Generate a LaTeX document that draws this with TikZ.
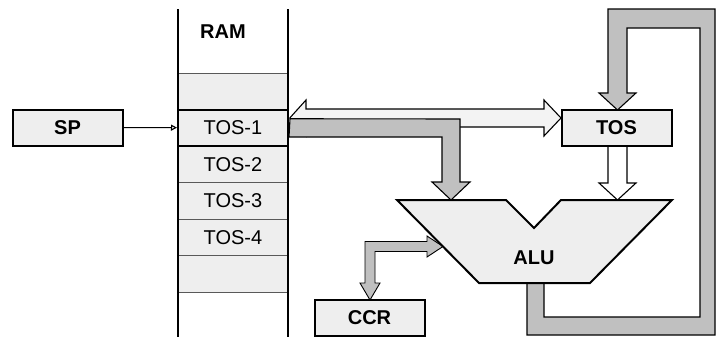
\documentclass[tikz,border=0pt]{standalone}
\usepackage{fontspec}
\setmainfont{Liberation Sans}
\usetikzlibrary{arrows.meta}
\definecolor{cellgray}{RGB}{238,238,238}
\definecolor{busgray}{RGB}{192,192,192}
\definecolor{lightbus}{RGB}{243,243,243}

\begin{document}
\begin{tikzpicture}[x=1pt, y=-1pt,
  every node/.style={font=\fontsize{20}{24}\selectfont},
  reg/.style={draw, line width=2pt, fill=cellgray, minimum width=110pt,
    minimum height=36pt, inner sep=0pt, font=\fontsize{20}{24}\selectfont\bfseries},
  cell/.style={draw=black!65, line width=0.8pt, fill=cellgray,
    minimum width=110pt, minimum height=36.5pt, inner sep=0pt},
  bus/.style={draw, line width=1.1pt, fill=busgray},
  lightbus/.style={draw, line width=1.1pt, fill=lightbus}]

  \useasboundingbox (0,0) rectangle (716,340);

  % RAM stack
  \node[cell] (r0) at (233,91.25) {};
  \node[cell] (r2) at (233,164.25) {TOS-2};
  \node[cell] (r3) at (233,200.75) {TOS-3};
  \node[cell] (r4) at (233,237.25) {TOS-4};
  \node[cell] (r5) at (233,273.75) {};
  \node[cell, draw=black, line width=2pt] (tos1) at (233,127.75) {TOS-1};
  \draw[line width=1.3pt] (178,9) -- (178,337) (288,9) -- (288,337);
  \node[font=\fontsize{20}{24}\selectfont\bfseries] (ram) at (223,32) {RAM};

  % registers
  \node[reg] (sp) at (67.5,127.5) {SP};

  \draw[line width=1.1pt, -{Triangle[open, length=6pt, width=6pt]}] (sp) -- (tos1);

  % buses
  \draw[lightbus] (tos1.east) ++(1,-10) -- (306,100) -- (306,109) -- (544,109)
    -- (544,100) -- (561,118) -- (544,136) -- (544,127) -- (306,127)
    -- (306,136) -- cycle;
  \draw[bus] (tos1.east) ++(1,-9) -- (460,119) -- (460,182) -- (470,182)
    -- (451,200) -- (432,182) -- (442,182) -- (442,137) -- (289,137) -- cycle;
  \draw[bus] (527,283) -- (527,335) -- (715,335) -- (715,9) -- (608,9)
    -- (608,93) -- (599,93) -- (617.5,110) -- (636,93) -- (627,93) -- (627,28)
    -- (700,28) -- (700,317) -- (544,317) -- (544,283) -- cycle;
  \draw[bus, line width=0.9pt] (443,246.5) -- (427,236) -- (427,241.5)
    -- (365,241.5) -- (365,283) -- (360,283) -- (370,300) -- (380,283)
    -- (375,283) -- (375,251.5) -- (427,251.5) -- (427,257) -- cycle;
  \draw[line width=1.1pt, fill=white] (608,146) -- (608,183) -- (599,183)
    -- (617.5,200) -- (636,183) -- (627,183) -- (627,146) -- cycle;

  \node[reg] (tos) at (616.5,128) {TOS};
  \node[reg] (ccr) at (369.5,318) {CCR};

  % ALU
  \draw[line width=2pt, fill=cellgray, line join=miter]
    (397,200) -- (506,200) -- (534,228) -- (561,200) -- (672,200)
    -- (590,283) -- (479,283) -- cycle;
  \node[font=\fontsize{20}{24}\selectfont\bfseries] (alu) at (534,258) {ALU};
\end{tikzpicture}
\end{document}
